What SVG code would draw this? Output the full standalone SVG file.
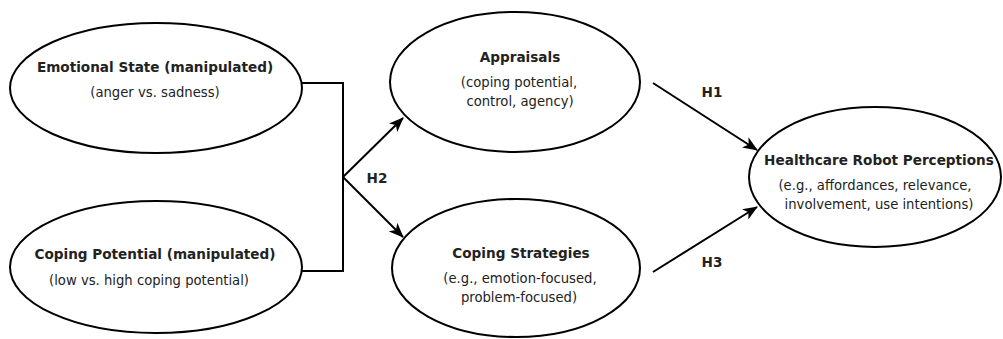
<svg xmlns="http://www.w3.org/2000/svg" width="1003" height="339" viewBox="0 0 1003 339">
<style>
.node ellipse{fill:#fff;stroke:#000;stroke-width:2}
.t{font-family:"DejaVu Sans",Verdana,sans-serif;font-size:13.6px;font-weight:bold;fill:#222;text-anchor:middle}
.s{font-family:"DejaVu Sans",Verdana,sans-serif;font-size:13.2px;fill:#222;text-anchor:middle}
.lbl{font-family:"DejaVu Sans",Verdana,sans-serif;font-size:13.6px;font-weight:bold;fill:#222;text-anchor:middle}
.c{fill:none;stroke:#000;stroke-width:2}
</style>
<defs>
<marker id="ah" markerWidth="15" markerHeight="12" refX="14" refY="6" orient="auto" markerUnits="userSpaceOnUse">
<path d="M0,0 L15,6 L0,12 L4,6 Z" fill="#000"/>
</marker>
</defs>
<g id="connectors">
<polyline class="c" points="302,83 343,83 343,271 302,271"/>
<line class="c" x1="343" y1="177" x2="403" y2="118" marker-end="url(#ah)"/>
<line class="c" x1="343" y1="177" x2="403" y2="237" marker-end="url(#ah)"/>
<line class="c" x1="653" y1="83" x2="757" y2="150" marker-end="url(#ah)"/>
<line class="c" x1="653" y1="272" x2="757" y2="207" marker-end="url(#ah)"/>
<text class="lbl" x="377" y="183">H2</text>
<text class="lbl" x="712" y="97">H1</text>
<text class="lbl" x="712" y="267">H3</text>
</g>
<g id="emotional" class="node">
<ellipse cx="156" cy="88" rx="146" ry="65"/>
<text class="t" x="155" y="72">Emotional State (manipulated)</text>
<text class="s" x="155" y="97">(anger vs. sadness)</text>
</g>
<g id="coping-potential" class="node">
<ellipse cx="156" cy="267" rx="146" ry="66"/>
<text class="t" x="155" y="259">Coping Potential (manipulated)</text>
<text class="s" x="149" y="285">(low vs. high coping potential)</text>
</g>
<g id="appraisals" class="node">
<ellipse cx="515" cy="82" rx="125" ry="70"/>
<text class="t" x="520" y="62">Appraisals</text>
<text class="s" x="519" y="87">(coping potential,</text>
<text class="s" x="520" y="106">control, agency)</text>
</g>
<g id="coping-strategies" class="node">
<ellipse cx="516" cy="268" rx="124" ry="69"/>
<text class="t" x="521" y="258">Coping Strategies</text>
<text class="s" x="520" y="283">(e.g., emotion-focused,</text>
<text class="s" x="519" y="302">problem-focused)</text>
</g>
<g id="healthcare" class="node">
<ellipse cx="875" cy="177" rx="126" ry="70"/>
<text class="t" x="879" y="165">Healthcare Robot Perceptions</text>
<text class="s" x="875" y="190">(e.g., affordances, relevance,</text>
<text class="s" x="879" y="209">involvement, use intentions)</text>
</g>
</svg>
